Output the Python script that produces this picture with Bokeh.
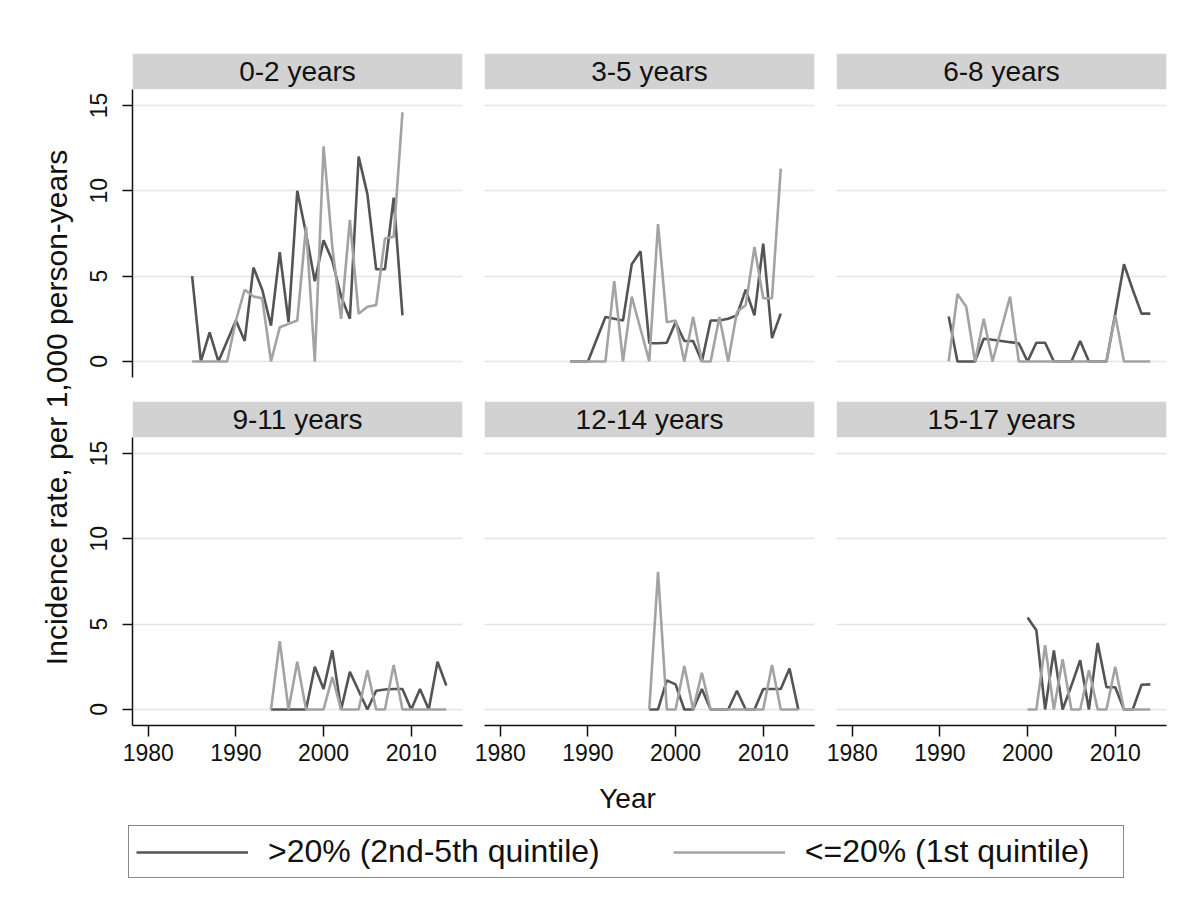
from bokeh.plotting import figure
from bokeh.models import Range1d, FixedTicker, BoxAnnotation, Label, Legend, LegendItem
from bokeh.layouts import row, column
from bokeh.embed import file_html
from bokeh.resources import INLINE

FONT = "Liberation Sans"
DARK = "#545454"
LIGHT = "#a3a3a3"
HEADER_FILL = "#d2d2d2"
GRID = "#e4e4e4"
INK = "#111111"

# ---------------- data ----------------
panel_titles = ["0-2 years", "3-5 years", "6-8 years",
                "9-11 years", "12-14 years", "15-17 years"]
series_labels = [">20% (2nd-5th quintile)", "<=20% (1st quintile)"]
x_ticks = [1980, 1990, 2000, 2010]
y_ticks = [0, 5, 10, 15]
x_axis_title = "Year"
y_axis_title = "Incidence rate, per 1,000 person-years"

years_0_2 = list(range(1985, 2010))
high_0_2 = [5.0, 0, 1.7, 0, 1.2, 2.4, 1.2, 5.5, 4.2, 2.1, 6.4, 2.3, 10.0, 7.5, 4.7,
            7.1, 5.9, 3.8, 2.5, 12.0, 9.8, 5.4, 5.4, 9.6, 2.7]
low_0_2 = [0, 0, 0, 0, 0, 2.4, 4.2, 3.8, 3.7, 0, 2.0, 2.2, 2.4, 7.9, 0,
           12.6, 6.7, 2.5, 8.3, 2.8, 3.2, 3.3, 7.2, 7.3, 14.6]

years_3_5 = list(range(1988, 2013))
high_3_5 = [0, 0, 0, 1.3, 2.6, 2.5, 2.4, 5.7, 6.45, 1.07, 1.07, 1.1, 2.3, 1.2, 1.2,
            0, 2.4, 2.4, 2.5, 2.7, 4.2, 2.7, 6.9, 1.37, 2.8]
low_3_5 = [0, 0, 0, 0, 0, 4.7, 0, 3.8, 1.9, 0, 8.05, 2.3, 2.4, 0, 2.6,
           0, 0, 2.6, 0, 2.9, 3.3, 6.7, 3.7, 3.7, 11.3]

years_6_8 = list(range(1991, 2015))
high_6_8 = [2.64, 0, 0, 0, 1.33, 1.27, 1.2, 1.13, 1.07, 0, 1.1, 1.1, 0, 0, 0,
            1.2, 0, 0, 0, 2.8, 5.7, 4.2, 2.8, 2.8]
low_6_8 = [0, 3.95, 3.2, 0, 2.5, 0, 1.9, 3.8, 0, 0, 0, 0, 0, 0, 0,
           0, 0, 0, 0, 2.7, 0, 0, 0, 0]

years_9_11 = list(range(1994, 2015))
high_9_11 = [0, 0, 0, 0, 0, 2.5, 1.2, 3.46, 0, 2.2, 1.1, 0, 1.1, 1.17, 1.2,
             1.2, 0, 1.2, 0, 2.8, 1.4]
low_9_11 = [0, 4.0, 0, 2.8, 0, 0, 0, 1.9, 0, 0, 0, 2.3, 0, 0, 2.6,
            0, 0, 0, 0, 0, 0]

years_12_14 = list(range(1997, 2015))
high_12_14 = [0, 0, 1.7, 1.47, 0, 0, 1.2, 0, 0, 0, 1.1, 0, 0, 1.2, 1.2, 1.2, 2.4, 0]
low_12_14 = [0, 8.06, 0, 0, 2.54, 0, 2.15, 0, 0, 0, 0, 0, 0, 0, 2.6, 0, 0, 0]

years_15_17 = list(range(2000, 2015))
high_15_17 = [5.38, 4.64, 0, 3.46, 0, 1.4, 2.88, 0, 3.9, 1.3, 1.3, 0, 0, 1.45, 1.47]
low_15_17 = [0, 0, 3.76, 0, 2.94, 0, 0, 2.3, 0, 0, 2.5, 0, 0, 0, 0]

panel_years = [years_0_2, years_3_5, years_6_8, years_9_11, years_12_14, years_15_17]
panel_high = [high_0_2, high_3_5, high_6_8, high_9_11, high_12_14, high_15_17]
panel_low = [low_0_2, low_3_5, low_6_8, low_9_11, low_12_14, low_15_17]

# ---------------- layout constants ----------------
X_START, X_END = 1978.2, 2015.85
Y_START, Y_END = -0.94, 18.04
HEADER_BOTTOM = 15.95
FRAME_W, FRAME_H = 330, 324
YLAB_W = 76
LEFT_COL1, SIDE = 56, 11
ROW1_TOP, ROW1_BOTTOM = 53, 12
ROW2_TOP, ROW2_BOTTOM = 12, 50
LINE_W = 2.6


def make_panel(i):
    col = i % 3
    rown = i // 3
    show_y = col == 0
    show_x = rown == 1
    left = LEFT_COL1 if show_y else SIDE
    top = ROW1_TOP if rown == 0 else ROW2_TOP
    bottom = ROW1_BOTTOM if rown == 0 else ROW2_BOTTOM
    p = figure(width=left + FRAME_W + SIDE, height=top + FRAME_H + bottom,
               x_range=Range1d(X_START, X_END), y_range=Range1d(Y_START, Y_END),
               x_axis_location="below" if show_x else None,
               y_axis_location="left" if show_y else None,
               min_border_left=left, min_border_right=SIDE,
               min_border_top=top, min_border_bottom=bottom,
               output_backend="svg", toolbar_location=None)
    p.outline_line_color = None
    p.background_fill_color = "white"
    p.border_fill_color = "white"
    for g in p.xgrid:
        g.visible = False
    for g in p.ygrid:
        g.ticker = FixedTicker(ticks=y_ticks)
        g.grid_line_color = GRID
        g.grid_line_width = 1.6

    if show_y:
        ax = p.yaxis[0]
        ax.ticker = FixedTicker(ticks=y_ticks)
        ax.bounds = (Y_START, HEADER_BOTTOM)
        ax.major_label_orientation = "vertical"
        ax.major_tick_out = 10
        ax.major_tick_in = 0
        ax.minor_tick_line_color = None
        ax.axis_line_color = INK
        ax.axis_line_width = 1.5
        ax.major_tick_line_color = INK
        ax.major_tick_line_width = 1.5
        ax.major_label_text_font = FONT
        ax.major_label_text_font_size = "23px"
        ax.major_label_text_color = INK
        ax.major_label_standoff = 15
    if show_x:
        ax = p.xaxis[0]
        ax.ticker = FixedTicker(ticks=x_ticks)
        ax.major_tick_out = 11
        ax.major_tick_in = 0
        ax.minor_tick_line_color = None
        ax.axis_line_color = INK
        ax.axis_line_width = 1.5
        ax.major_tick_line_color = INK
        ax.major_tick_line_width = 1.5
        ax.major_label_text_font = FONT
        ax.major_label_text_font_size = "23px"
        ax.major_label_text_color = INK
        ax.major_label_standoff = 7

    header = BoxAnnotation(bottom=HEADER_BOTTOM, fill_color=HEADER_FILL, fill_alpha=1.0,
                           line_color=None)
    p.add_layout(header)
    p.add_layout(Label(x=(X_START + X_END) / 2, y=(HEADER_BOTTOM + Y_END) / 2,
                       text=panel_titles[i], text_align="center", text_baseline="middle",
                       text_font=FONT, text_font_size="28px", text_color=INK))

    p.line(panel_years[i], panel_high[i], line_color=DARK, line_width=LINE_W)
    p.line(panel_years[i], panel_low[i], line_color=LIGHT, line_width=LINE_W)
    return p


panels = [make_panel(i) for i in range(6)]

total_h = (ROW1_TOP + FRAME_H + ROW1_BOTTOM) + (ROW2_TOP + FRAME_H + ROW2_BOTTOM)
header_px = int(round((Y_END - HEADER_BOTTOM) / (Y_END - Y_START) * FRAME_H))

# y-axis title figure (spans both rows)
ylab = figure(width=YLAB_W, height=total_h, x_range=Range1d(0, 1), y_range=Range1d(0, 1),
              x_axis_location=None, y_axis_location="left",
              min_border_left=YLAB_W - 2, min_border_right=0,
              min_border_top=ROW1_TOP + header_px,
              min_border_bottom=ROW2_BOTTOM,
              output_backend="svg", toolbar_location=None)
ylab.outline_line_color = None
for g in ylab.grid:
    g.visible = False
yax = ylab.yaxis[0]
yax.ticker = FixedTicker(ticks=[])
yax.axis_line_color = None
yax.major_tick_line_color = None
yax.minor_tick_line_color = None
yax.axis_label = y_axis_title
yax.axis_label_text_font = FONT
yax.axis_label_text_font_size = "30px"
yax.axis_label_text_font_style = "normal"
yax.axis_label_text_color = INK
yax.axis_label_standoff = 2

# bottom strip: x-axis title + legend
total_w = YLAB_W + (LEFT_COL1 + FRAME_W + SIDE) + 2 * (2 * SIDE + FRAME_W)
LF_H = 120
lf = figure(width=total_w, height=LF_H, x_range=Range1d(0, 1), y_range=Range1d(0, 1),
            x_axis_location=None, y_axis_location=None, min_border=0,
            output_backend="svg", toolbar_location=None)
lf.outline_line_color = None
for g in lf.grid:
    g.visible = False
lf.add_layout(Label(x=627, y=LF_H - 23, x_units="screen", y_units="screen",
                    text=x_axis_title, text_align="center", text_baseline="middle",
                    text_font=FONT, text_font_size="28px", text_color=INK))
# legend samples: the same series, lying outside this strip's visible range
lr1 = lf.line(panel_years[0], panel_high[0], line_color=DARK, line_width=LINE_W)
lr2 = lf.line(panel_years[0], panel_low[0], line_color=LIGHT, line_width=LINE_W)
legend = Legend(items=[LegendItem(label=series_labels[0], renderers=[lr1]),
                       LegendItem(label=series_labels[1], renderers=[lr2])],
                orientation="horizontal", location=(128, 17), margin=0,
                padding=7, spacing=73, glyph_width=112, glyph_height=30,
                label_standoff=20, label_width=311, label_height=30,
                label_text_font=FONT, label_text_font_size="32px", label_text_color=INK,
                border_line_color=INK, border_line_width=1.5,
                background_fill_color="white", background_fill_alpha=1.0)
lf.add_layout(legend)

layout = column(row(ylab, column(row(*panels[:3]), row(*panels[3:]))), lf)

open("out.html", "w").write(file_html(layout, INLINE))
